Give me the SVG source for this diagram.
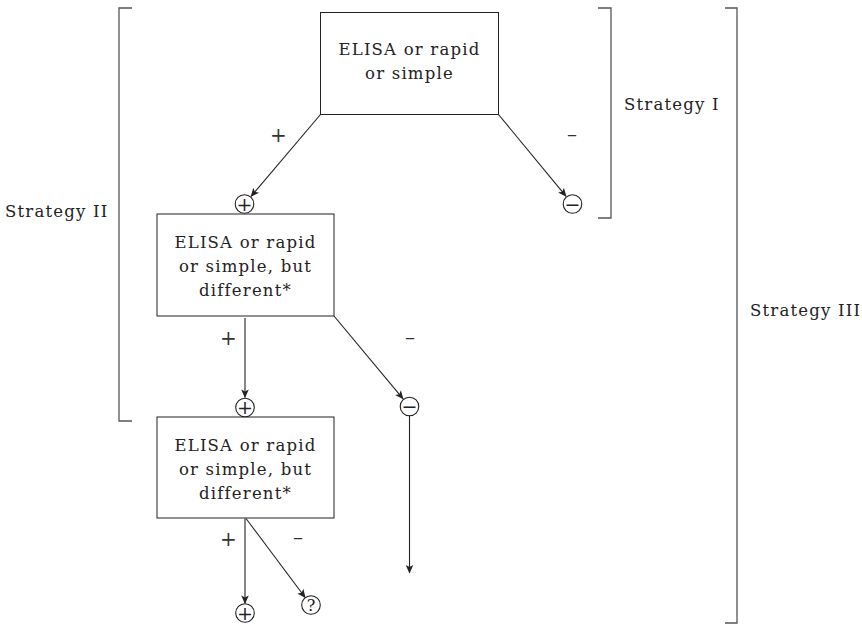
<svg xmlns="http://www.w3.org/2000/svg" width="862" height="625" viewBox="0 0 862 625">
<style>
text{font-family:"DejaVu Serif","Liberation Serif",serif;font-size:16.5px;fill:#222;letter-spacing:1.2px}
.c{text-anchor:middle}
.pm{font-size:20px;letter-spacing:0;text-anchor:middle;fill:#333}
.box{fill:#fff;stroke:#222;stroke-width:1}
.br{fill:none;stroke:#555;stroke-width:1.3}
.ln{fill:none;stroke:#222;stroke-width:1.1}
.circ{fill:#fff;stroke:#222;stroke-width:1.1}
.sym{font-size:19px;letter-spacing:0;text-anchor:middle}
</style>
<defs>
<marker id="ah" viewBox="-10 -5 11 10" refX="0" refY="0" markerWidth="11" markerHeight="10" markerUnits="userSpaceOnUse" orient="auto">
<path d="M0.5,0 L-8,-3.8 L-6,0 L-8,3.8 Z" fill="#222"/>
</marker>
</defs>
<rect width="862" height="625" fill="#fff"/>
<g id="brackets">
<path class="br" d="M132,8 H119 V421 H132"/>
<path class="br" d="M598,8 H611 V218 H598"/>
<path class="br" d="M725,8 H737 V623 H725"/>
</g>
<g id="labels">
<text x="5" y="217">Strategy II</text>
<text x="624" y="110">Strategy I</text>
<text x="750" y="316">Strategy III</text>
<text class="pm" x="278.5" y="141.5">+</text>
<text class="pm" x="572" y="141">–</text>
<text class="pm" x="228.5" y="345">+</text>
<text class="pm" x="410" y="344">–</text>
<text class="pm" x="228.5" y="546">+</text>
<text class="pm" x="298" y="544">–</text>
</g>
<g id="connectors">
<line class="ln" x1="320.5" y1="114.5" x2="251" y2="196.4" marker-end="url(#ah)"/>
<line class="ln" x1="498.5" y1="114.5" x2="566.1" y2="196.3" marker-end="url(#ah)"/>
<line class="ln" x1="245" y1="318" x2="245" y2="397.5" marker-end="url(#ah)"/>
<line class="ln" x1="334" y1="316" x2="403.1" y2="398.8" marker-end="url(#ah)"/>
<line class="ln" x1="409.5" y1="415.5" x2="409.5" y2="573" marker-end="url(#ah)"/>
<line class="ln" x1="245" y1="518.5" x2="245" y2="603.5" marker-end="url(#ah)"/>
<line class="ln" x1="246" y1="518.5" x2="305.2" y2="597.5" marker-end="url(#ah)"/>
</g>
<g id="node1">
<rect class="box" x="320.5" y="12.5" width="178" height="102"/>
<text class="c" x="409.5" y="55">ELISA or rapid</text>
<text class="c" x="409.5" y="79">or simple</text>
</g>
<g id="node2">
<rect class="box" x="157" y="214" width="177" height="102"/>
<text class="c" x="245.5" y="248">ELISA or rapid</text>
<text class="c" x="245.5" y="272">or simple, but</text>
<text class="c" x="245.5" y="296">different*</text>
</g>
<g id="node3">
<rect class="box" x="157" y="417" width="177" height="101"/>
<text class="c" x="245.5" y="451">ELISA or rapid</text>
<text class="c" x="245.5" y="475">or simple, but</text>
<text class="c" x="245.5" y="499">different*</text>
</g>
<g id="res1"><circle class="circ" cx="244.5" cy="204" r="9.3"/><text class="sym" x="244.5" y="210.8">+</text></g>
<g id="res2"><circle class="circ" cx="572.5" cy="204" r="9.3"/><text class="sym" x="572.5" y="210.8">−</text></g>
<g id="res3"><circle class="circ" cx="245" cy="407.5" r="9.3"/><text class="sym" x="245" y="414.3">+</text></g>
<g id="res4"><circle class="circ" cx="409.5" cy="406.5" r="9.3"/><text class="sym" x="409.5" y="413.3">−</text></g>
<g id="res5"><circle class="circ" cx="245" cy="613" r="9.3"/><text class="sym" x="245" y="619.8">+</text></g>
<g id="res6"><circle class="circ" cx="311" cy="605" r="9.3"/><text class="sym" x="311" y="611" style="font-size:16px">?</text></g>
</svg>
